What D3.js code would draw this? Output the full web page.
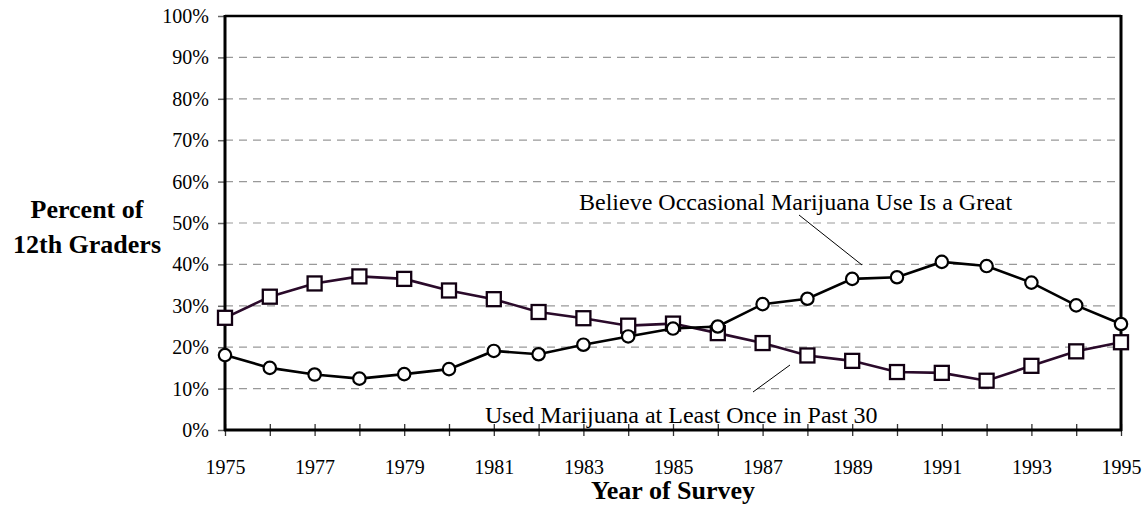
<!DOCTYPE html>
<html>
<head>
<meta charset="utf-8">
<script src="https://cdn.jsdelivr.net/npm/d3@7"></script>
<style>
  html, body { margin: 0; padding: 0; background: #fff; }
  svg { display: block; }
  svg text { font-family: "Liberation Serif", "Times New Roman", serif !important; }
</style>
</head>
<body>
<svg id="chart" width="1144" height="506"></svg>
<script>
const years = [1975,1976,1977,1978,1979,1980,1981,1982,1983,1984,1985,1986,1987,1988,1989,1990,1991,1992,1993,1994,1995];
const greatRisk = [18.1,15.0,13.4,12.4,13.5,14.7,19.1,18.3,20.6,22.6,24.5,25.0,30.4,31.7,36.5,36.9,40.6,39.6,35.6,30.1,25.6];
const pastMonthUse = [27.1,32.2,35.4,37.1,36.5,33.7,31.6,28.5,27.0,25.2,25.7,23.4,21.0,18.0,16.7,14.0,13.8,11.9,15.5,19.0,21.2];
const yTicks = [0,10,20,30,40,50,60,70,80,90,100];
const xLabelYears = [1975,1977,1979,1981,1983,1985,1987,1989,1991,1993,1995];
const labelGreatRisk = "Believe Occasional Marijuana Use Is a Great";
const labelUse = "Used Marijuana at Least Once in Past 30";

(function () {
const svg = d3.select("#chart");
const pLeft = 225, pRight = 1121, pTop = 16, pBottom = 430;
const serif = "'Liberation Serif', 'Times New Roman', serif";

const x = d3.scaleLinear().domain([1975, 1995]).range([pLeft, pRight]);
const y = d3.scaleLinear().domain([0, 100]).range([pBottom, pTop]);

// gridlines
svg.append("g").selectAll("line").data(yTicks.filter(d => d > 0 && d < 100)).join("line")
  .attr("x1", pLeft).attr("x2", pRight)
  .attr("y1", d => y(d)).attr("y2", d => y(d))
  .attr("stroke", "#999").attr("stroke-width", 1.2).attr("stroke-dasharray", "8,6");

// y axis
const yAxis = svg.append("g").attr("transform", `translate(${pLeft},0)`)
  .call(d3.axisLeft(y).tickValues(yTicks).tickFormat(d => d + "%").tickSize(7).tickPadding(9));
yAxis.attr("font-family", serif);
yAxis.select(".domain").remove();
yAxis.selectAll(".tick line").attr("stroke", "#666").attr("stroke-width", 1.5);
yAxis.selectAll(".tick text").attr("font-size", 20).attr("fill", "#000");

// x axis ticks (cross the axis)
const xAxis = svg.append("g").attr("transform", `translate(0,${pBottom + 6})`)
  .call(d3.axisBottom(x).tickValues(years).tickFormat(d => xLabelYears.includes(d) ? d : "").tickSize(12).tickPadding(25));
xAxis.attr("font-family", serif);
xAxis.select(".domain").remove();
xAxis.selectAll(".tick line").attr("stroke", "#333").attr("stroke-width", 1.3).attr("y1", -12).attr("y2", 0);
xAxis.selectAll(".tick text").attr("font-size", 20).attr("fill", "#000")
  .attr("dy", "0").attr("y", 38);

// frame
svg.append("line").attr("x1", pLeft).attr("x2", pRight).attr("y1", pTop).attr("y2", pTop)
  .attr("stroke", "#000").attr("stroke-width", 2.5);
svg.append("line").attr("x1", pLeft).attr("x2", pLeft).attr("y1", pTop - 1).attr("y2", pBottom + 1)
  .attr("stroke", "#000").attr("stroke-width", 3);
svg.append("line").attr("x1", pRight).attr("x2", pRight).attr("y1", pTop - 1).attr("y2", pBottom + 1)
  .attr("stroke", "#000").attr("stroke-width", 3);
svg.append("line").attr("x1", pLeft - 1).attr("x2", pRight + 1).attr("y1", pBottom).attr("y2", pBottom)
  .attr("stroke", "#000").attr("stroke-width", 3);

// annotation text & leaders
svg.append("text").attr("x", 579).attr("y", 210).attr("font-size", 24).attr("fill", "#000")
  .attr("font-family", serif).text(labelGreatRisk);
svg.append("line").attr("x1", 799).attr("y1", 215).attr("x2", 862).attr("y2", 265)
  .attr("stroke", "#000").attr("stroke-width", 1);
svg.append("text").attr("x", 485).attr("y", 423).attr("font-size", 24).attr("fill", "#000")
  .attr("font-family", serif).text(labelUse);
svg.append("line").attr("x1", 753).attr("y1", 392).attr("x2", 790).attr("y2", 365)
  .attr("stroke", "#000").attr("stroke-width", 1);

// series: past month use (squares)
const line = d3.line().x((d, i) => x(years[i])).y(d => y(d));
svg.append("path").datum(pastMonthUse).attr("d", line)
  .attr("fill", "none").attr("stroke", "#2a0a2a").attr("stroke-width", 2.6);
svg.append("g").selectAll("rect").data(pastMonthUse).join("rect")
  .attr("x", (d, i) => x(years[i]) - 7).attr("y", d => y(d) - 7)
  .attr("width", 14).attr("height", 14)
  .attr("fill", "#fff").attr("stroke", "#120012").attr("stroke-width", 2.3);

// series: great risk (circles)
svg.append("path").datum(greatRisk).attr("d", line)
  .attr("fill", "none").attr("stroke", "#000").attr("stroke-width", 2.6);
svg.append("g").selectAll("circle").data(greatRisk).join("circle")
  .attr("cx", (d, i) => x(years[i])).attr("cy", d => y(d)).attr("r", 6.2)
  .attr("fill", "#fff").attr("stroke", "#000").attr("stroke-width", 2.2);

// axis titles
svg.append("text").attr("x", 87).attr("y", 218).attr("text-anchor", "middle")
  .attr("font-family", serif).attr("font-size", 26).attr("font-weight", "bold").text("Percent of");
svg.append("text").attr("x", 87).attr("y", 253).attr("text-anchor", "middle")
  .attr("font-family", serif).attr("font-size", 26).attr("font-weight", "bold").text("12th Graders");
svg.append("text").attr("x", (pLeft + pRight) / 2).attr("y", 499).attr("text-anchor", "middle")
  .attr("font-family", serif).attr("font-size", 26).attr("font-weight", "bold").text("Year of Survey");
})();
</script>
</body>
</html>
